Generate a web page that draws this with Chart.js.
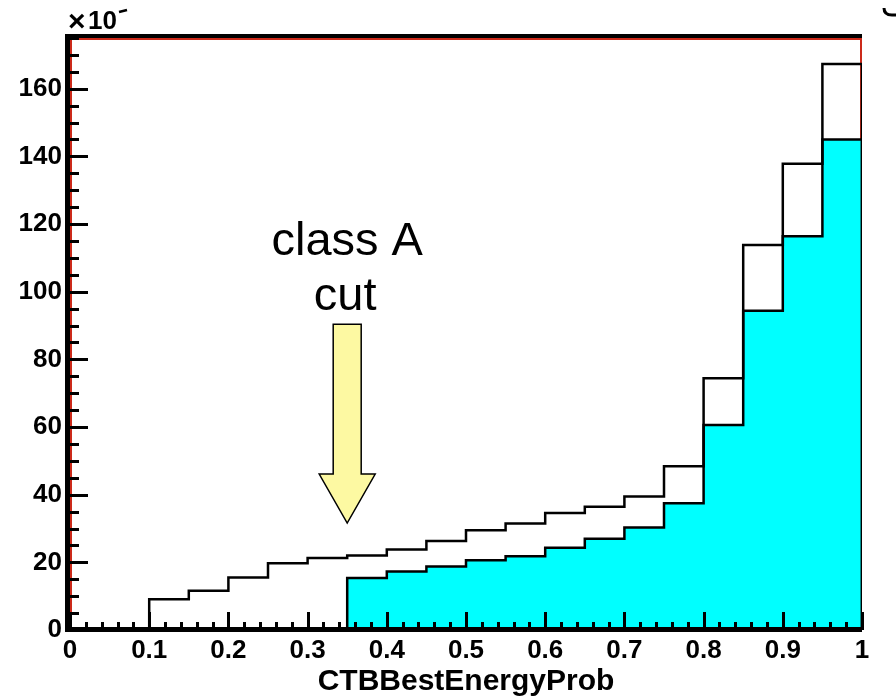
<!DOCTYPE html>
<html>
<head>
<meta charset="utf-8">
<script src="https://cdn.jsdelivr.net/npm/chart.js@4/dist/chart.umd.min.js"></script>
<style>
  html, body { margin: 0; padding: 0; background: #fff; }
</style>
</head>
<body>
<canvas id="myChart" width="896" height="700"></canvas>
<script>
// histogram bins (lower edges), width 0.05
var binLow = [0, 0.05, 0.1, 0.15, 0.2, 0.25, 0.3, 0.35, 0.4, 0.45,
              0.5, 0.55, 0.6, 0.65, 0.7, 0.75, 0.8, 0.85, 0.9, 0.95];
var binWidth = 0.05;

// all events (open histogram), in units of 10^3
var allEvents = [0, 0, 9.1, 11.6, 15.5, 19.7, 21.3, 22.0, 23.8, 26.3,
                 29.5, 31.5, 34.6, 36.4, 39.5, 48.4, 74.4, 113.8, 137.8, 167.3];

// events passing the class A cut (filled histogram)
var classA = [null, null, null, null, null, null, null, 15.4, 17.3, 18.8,
              20.6, 21.8, 24.3, 27.0, 30.3, 37.5, 60.6, 94.4, 116.4, 145.0];

var xTicks = [0, 0.1, 0.2, 0.3, 0.4, 0.5, 0.6, 0.7, 0.8, 0.9, 1];
var yTicks = [0, 20, 40, 60, 80, 100, 120, 140, 160];
var yMax = 175;
var xMinorStep = 0.02;
var yMinorStep = 5;

// the cut marker
var cutValue = 0.35;
var cutLabel = ['class A', 'cut'];

var FONT = '"Liberation Sans", Arial, Helvetica, sans-serif';
var RED = '#cc2a1a';

function stepPoints(counts) {
  var pts = [];
  var last = -1;
  counts.forEach(function (c, i) {
    if (c === null) return;
    if (last < 0) pts.push({ x: binLow[i], y: 0 });
    pts.push({ x: binLow[i], y: c });
    last = i;
  });
  pts.push({ x: binLow[last] + binWidth, y: 0 });
  return pts;
}

var decor = {
  id: 'decor',
  beforeDatasetsDraw: function (chart) {
    var ctx = chart.ctx, a = chart.chartArea;
    ctx.save();
    ctx.strokeStyle = RED;
    ctx.lineWidth = 2;
    ctx.beginPath();
    ctx.moveTo(a.left + 1, a.bottom);
    ctx.lineTo(a.left + 1, a.top + 1);
    ctx.lineTo(a.right - 1, a.top + 1);
    ctx.lineTo(a.right - 1, a.bottom);
    ctx.stroke();
    ctx.restore();
  },
  afterDatasetsDraw: function (chart) {
    var ctx = chart.ctx, a = chart.chartArea;
    var xs = chart.scales.x, ys = chart.scales.y;
    ctx.save();
    ctx.strokeStyle = '#000';
    ctx.lineCap = 'butt';

    // top frame
    ctx.lineWidth = 4;
    ctx.beginPath();
    ctx.moveTo(a.left - 5, a.top - 2);
    ctx.lineTo(a.right, a.top - 2);
    ctx.stroke();

    // axis lines
    ctx.lineWidth = 5;
    ctx.beginPath();
    ctx.moveTo(a.left - 2.5, a.top - 4);
    ctx.lineTo(a.left - 2.5, a.bottom + 2);
    ctx.stroke();
    ctx.beginPath();
    ctx.moveTo(a.left - 5, a.bottom - 0.5);
    ctx.lineTo(a.right, a.bottom - 0.5);
    ctx.stroke();

    // ticks (inward)
    ctx.lineWidth = 3;
    ctx.beginPath();
    var v, p, major;
    for (var i = 0; i * yMinorStep <= yMax + 1e-9; i++) {
      v = i * yMinorStep;
      p = Math.round(ys.getPixelForValue(v)) + 0.5;
      major = yTicks.indexOf(v) >= 0;
      ctx.moveTo(a.left, p);
      ctx.lineTo(a.left + (major ? 18 : 9), p);
    }
    for (var j = 0; j * xMinorStep <= 1 + 1e-9; j++) {
      v = +(j * xMinorStep).toFixed(2);
      p = Math.round(xs.getPixelForValue(v)) + 0.5;
      major = xTicks.indexOf(v) >= 0;
      ctx.moveTo(p, a.bottom);
      ctx.lineTo(p, a.bottom - (major ? 18 : 8));
    }
    ctx.stroke();

    // exponent label
    ctx.fillStyle = '#000';
    ctx.textBaseline = 'alphabetic';
    ctx.textAlign = 'left';
    ctx.font = 'bold 30px ' + FONT;
    ctx.fillText('\u00d7', a.left - 2, 31);
    ctx.font = 'bold 26px ' + FONT;
    ctx.fillText('10', a.left + 18, 29);
    ctx.lineWidth = 2.5;
    ctx.beginPath();
    ctx.moveTo(a.left + 49, 12);
    ctx.lineTo(a.left + 57, 10);
    ctx.stroke();

    // clipped fragment at top right
    ctx.lineWidth = 3;
    ctx.beginPath();
    ctx.moveTo(884, 8);
    ctx.quadraticCurveTo(884, 15, 892, 15);
    ctx.lineTo(896, 15);
    ctx.stroke();

    // cut arrow
    var cx = xs.getPixelForValue(cutValue);
    var yTop = ys.getPixelForValue(90.4);
    var yHead = ys.getPixelForValue(46.1);
    var yTip = ys.getPixelForValue(31.6);
    ctx.fillStyle = '#fdf9a2';
    ctx.lineWidth = 1.5;
    ctx.lineJoin = 'miter';
    ctx.beginPath();
    ctx.moveTo(cx - 14, yTop);
    ctx.lineTo(cx + 14, yTop);
    ctx.lineTo(cx + 14, yHead);
    ctx.lineTo(cx + 28, yHead);
    ctx.lineTo(cx, yTip);
    ctx.lineTo(cx - 28, yHead);
    ctx.lineTo(cx - 14, yHead);
    ctx.closePath();
    ctx.fill();
    ctx.stroke();

    ctx.fillStyle = '#000';
    ctx.font = '47px ' + FONT;
    ctx.textAlign = 'center';
    ctx.fillText(cutLabel[0], cx, ys.getPixelForValue(110.8));
    ctx.fillText(cutLabel[1], cx - 2, ys.getPixelForValue(94.6));
    ctx.restore();
  }
};

var ctx = document.getElementById('myChart').getContext('2d');
var chart = new Chart(ctx, {
  type: 'line',
  data: {
    datasets: [
      {
        label: 'all',
        data: stepPoints(allEvents),
        stepped: true,
        borderColor: '#000',
        borderWidth: 2.5,
        pointRadius: 0,
        fill: false,
        order: 1
      },
      {
        label: 'class A',
        data: stepPoints(classA),
        stepped: true,
        borderColor: '#000',
        borderWidth: 2.5,
        backgroundColor: '#00ffff',
        pointRadius: 0,
        fill: 'origin',
        order: 2
      }
    ]
  },
  options: {
    responsive: false,
    animation: false,
    devicePixelRatio: 1,
    layout: { padding: { top: 38, right: 34, left: 0, bottom: 0 } },
    plugins: {
      legend: { display: false },
      tooltip: { enabled: false }
    },
    scales: {
      x: {
        type: 'linear',
        min: 0,
        max: 1,
        afterFit: function (s) { s.height = 70; },
        afterBuildTicks: function (s) { s.ticks = xTicks.map(function (v) { return { value: v }; }); },
        grid: { display: false, drawTicks: false },
        border: { display: false },
        ticks: {
          color: '#000',
          padding: 5,
          maxRotation: 0,
          autoSkip: false,
          font: { family: FONT, size: 26, weight: 'bold' },
          callback: function (v) { return String(v); }
        },
        title: {
          display: true,
          text: 'CTBBestEnergyProb',
          color: '#000',
          padding: { top: 0, bottom: 0 },
          font: { family: FONT, size: 30, weight: 'bold' }
        }
      },
      y: {
        type: 'linear',
        min: 0,
        max: yMax,
        afterFit: function (s) { s.width = 70; },
        afterBuildTicks: function (s) { s.ticks = yTicks.map(function (v) { return { value: v }; }); },
        grid: { display: false, drawTicks: false },
        border: { display: false },
        ticks: {
          color: '#000',
          padding: 8,
          autoSkip: false,
          font: { family: FONT, size: 26, weight: 'bold' },
          callback: function (v) { return String(v); }
        }
      }
    }
  },
  plugins: [decor]
});
</script>
</body>
</html>
